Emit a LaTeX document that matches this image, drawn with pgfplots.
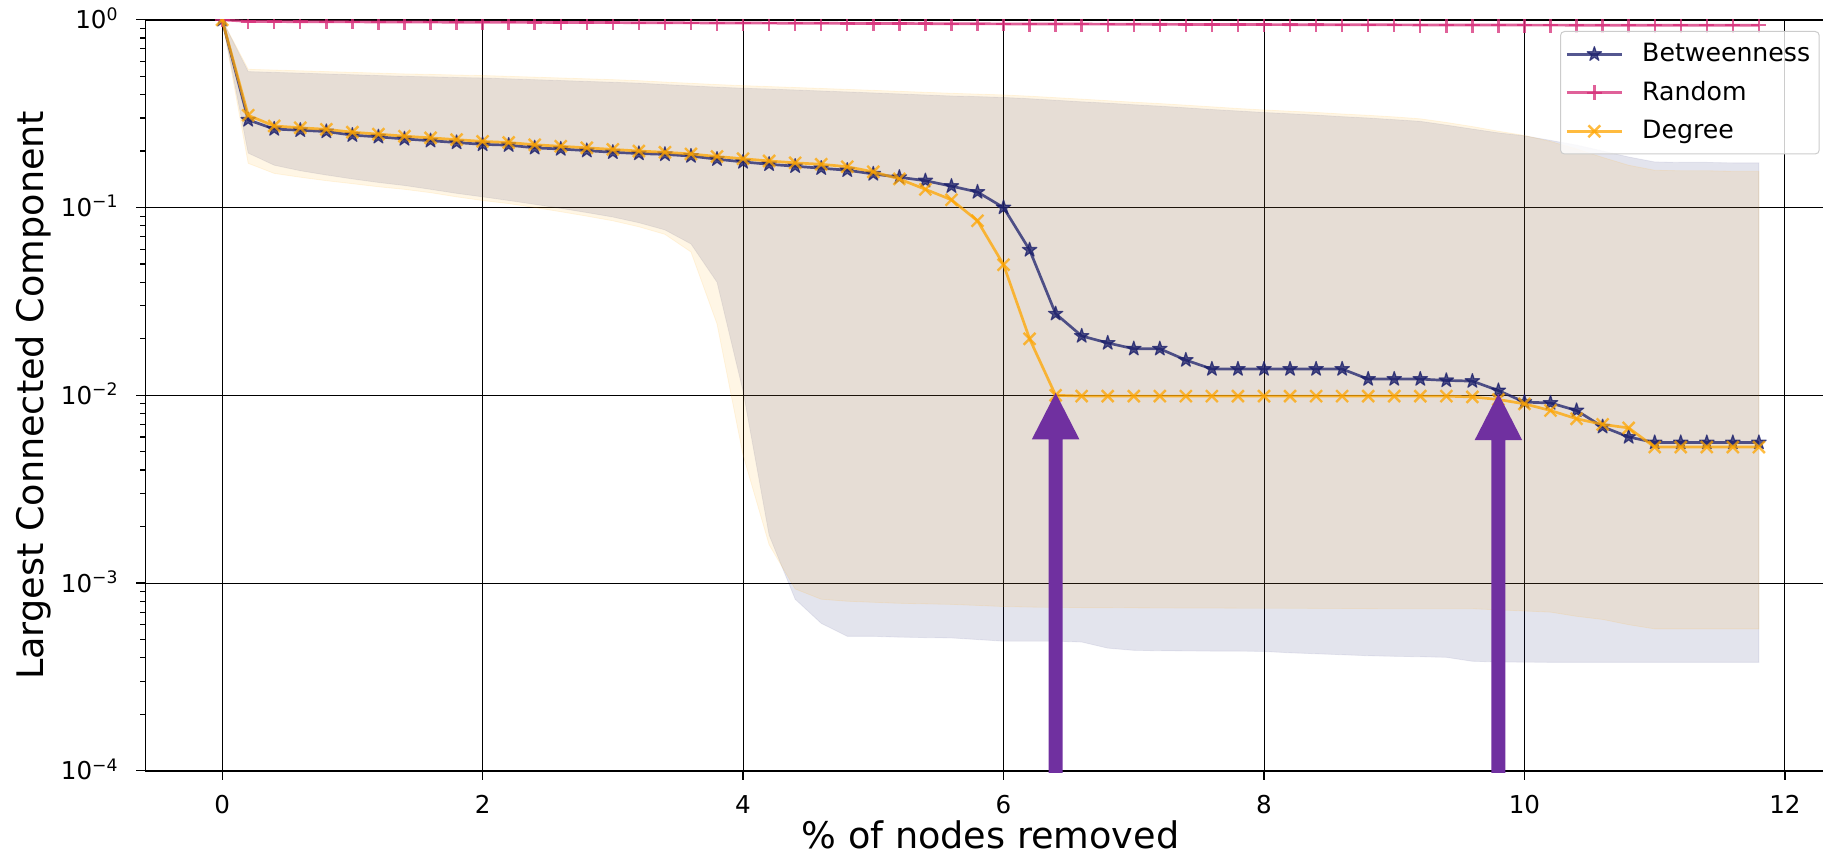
\documentclass[border=0pt]{standalone}
\usepackage{fontspec}
\setmainfont{DejaVu Sans}
\usepackage{pgfplots}
\pgfplotsset{compat=1.18}
\usepackage{pgfplotstable}
\usepgfplotslibrary{fillbetween}
\usetikzlibrary{calc}

\definecolor{bcol}{HTML}{1B1F6B}
\definecolor{rcol}{HTML}{D62C77}
\definecolor{dcol}{HTML}{FFA500}
\definecolor{arrowcol}{HTML}{7030A0}

\pgfdeclareplotmark{fstar}{%
 \pgfpathmoveto{\pgfpointpolar{90}{\pgfplotmarksize}}%
 \pgfpathlineto{\pgfpointpolar{126}{0.382\pgfplotmarksize}}%
 \pgfpathlineto{\pgfpointpolar{162}{\pgfplotmarksize}}%
 \pgfpathlineto{\pgfpointpolar{198}{0.382\pgfplotmarksize}}%
 \pgfpathlineto{\pgfpointpolar{234}{\pgfplotmarksize}}%
 \pgfpathlineto{\pgfpointpolar{270}{0.382\pgfplotmarksize}}%
 \pgfpathlineto{\pgfpointpolar{306}{\pgfplotmarksize}}%
 \pgfpathlineto{\pgfpointpolar{342}{0.382\pgfplotmarksize}}%
 \pgfpathlineto{\pgfpointpolar{18}{\pgfplotmarksize}}%
 \pgfpathlineto{\pgfpointpolar{54}{0.382\pgfplotmarksize}}%
 \pgfpathclose
 \pgfusepathqfillstroke}

\pgfplotstableread{
x B R D BU BL DU DL
0.0 1.0 1.0 1.0 1.0 1.0 1.0 1.0
0.2 0.293 0.980 0.310 0.530 0.195 0.545 0.172
0.4 0.262 0.978 0.272 0.525 0.168 0.540 0.152
0.6 0.258 0.977 0.266 0.520 0.157 0.535 0.145
0.8 0.254 0.976 0.261 0.515 0.149 0.530 0.139
1.0 0.243 0.975 0.252 0.510 0.142 0.525 0.134
1.2 0.238 0.974 0.246 0.505 0.136 0.520 0.129
1.4 0.232 0.973 0.240 0.500 0.131 0.515 0.125
1.6 0.227 0.972 0.235 0.497 0.125 0.512 0.120
1.8 0.222 0.971 0.230 0.493 0.119 0.508 0.114
2.0 0.217 0.970 0.225 0.490 0.114 0.505 0.109
2.2 0.215 0.970 0.222 0.485 0.109 0.500 0.105
2.4 0.208 0.969 0.216 0.480 0.104 0.495 0.100
2.6 0.205 0.968 0.212 0.475 0.099 0.490 0.095
2.8 0.201 0.967 0.208 0.470 0.094 0.485 0.090
3.0 0.197 0.966 0.204 0.465 0.089 0.480 0.085
3.2 0.194 0.965 0.200 0.460 0.083 0.474 0.079
3.4 0.192 0.964 0.197 0.452 0.076 0.466 0.072
3.6 0.188 0.963 0.193 0.445 0.064 0.459 0.058
3.8 0.181 0.962 0.187 0.438 0.040 0.452 0.024
4.0 0.175 0.961 0.182 0.432 0.0105 0.446 0.0048
4.2 0.170 0.960 0.177 0.428 0.0018 0.441 0.0016
4.4 0.166 0.959 0.173 0.423 0.00082 0.436 0.00093
4.6 0.162 0.958 0.170 0.418 0.00061 0.431 0.00082
4.8 0.158 0.957 0.165 0.413 0.00052 0.426 0.00080
5.0 0.151 0.956 0.155 0.408 0.00052 0.421 0.00079
5.2 0.145 0.955 0.142 0.403 0.000515 0.416 0.00078
5.4 0.139 0.954 0.125 0.398 0.000512 0.411 0.000775
5.6 0.130 0.953 0.110 0.393 0.00051 0.406 0.00077
5.8 0.121 0.952 0.085 0.390 0.00050 0.402 0.00076
6.0 0.100 0.951 0.0496 0.386 0.00049 0.398 0.00075
6.2 0.0595 0.950 0.0200 0.380 0.00049 0.392 0.000745
6.4 0.0272 0.950 0.0100 0.373 0.00049 0.385 0.000742
6.6 0.0207 0.949 0.0099 0.366 0.000485 0.378 0.00074
6.8 0.0190 0.948 0.0099 0.360 0.00045 0.371 0.00074
7.0 0.0177 0.947 0.0099 0.353 0.000438 0.364 0.000738
7.2 0.0177 0.946 0.0099 0.347 0.000436 0.358 0.000737
7.4 0.0154 0.945 0.0099 0.340 0.000435 0.351 0.000736
7.6 0.0138 0.945 0.0099 0.333 0.000434 0.344 0.000736
7.8 0.0138 0.944 0.0099 0.327 0.000434 0.337 0.000735
8.0 0.0138 0.943 0.0099 0.321 0.000432 0.331 0.000735
8.2 0.0138 0.942 0.0099 0.316 0.000425 0.326 0.000734
8.4 0.0138 0.942 0.0099 0.311 0.00042 0.321 0.000733
8.6 0.0138 0.941 0.0099 0.305 0.000415 0.315 0.000732
8.8 0.0122 0.940 0.0099 0.300 0.00041 0.310 0.000731
9.0 0.0122 0.940 0.0099 0.294 0.000407 0.304 0.00073
9.2 0.0122 0.939 0.0099 0.288 0.000405 0.297 0.00073
9.4 0.0120 0.939 0.0099 0.275 0.000402 0.284 0.00073
9.6 0.0119 0.938 0.0098 0.262 0.000383 0.270 0.00073
9.8 0.0106 0.938 0.0095 0.250 0.00038 0.255 0.00072
10.0 0.0092 0.937 0.0090 0.241 0.000379 0.242 0.00071
10.2 0.0091 0.937 0.0083 0.228 0.000378 0.225 0.00070
10.4 0.0083 0.936 0.0075 0.215 0.000378 0.205 0.000665
10.6 0.0068 0.936 0.0070 0.200 0.000378 0.185 0.00064
10.8 0.0060 0.935 0.0067 0.186 0.000378 0.168 0.00060
11.0 0.0056 0.935 0.0053 0.175 0.000378 0.158 0.00057
11.2 0.0056 0.935 0.0053 0.174 0.000378 0.157 0.00057
11.4 0.0056 0.935 0.0053 0.174 0.000378 0.157 0.00057
11.6 0.0056 0.935 0.0053 0.173 0.000378 0.156 0.00057
11.8 0.0056 0.935 0.0053 0.173 0.000378 0.156 0.00057
}\data

\begin{document}
\begin{tikzpicture}
\begin{axis}[
  scale only axis, width=845.2pt, height=375.5pt,
  xmin=-0.59, xmax=12.39,
  ymode=log, log basis y=10, ymin=1e-4, ymax=1,
  xtick={0,2,4,6,8,10,12}, xticklabels={0,2,4,6,8,10,12},
  ytick={1e-4,1e-3,1e-2,1e-1,1},
  yticklabels={10\textsuperscript{−4},10\textsuperscript{−3},10\textsuperscript{−2},10\textsuperscript{−1},10\textsuperscript{0}},
  minor ytick={2e-4,3e-4,4e-4,5e-4,6e-4,7e-4,8e-4,9e-4,2e-3,3e-3,4e-3,5e-3,6e-3,7e-3,8e-3,9e-3,2e-2,3e-2,4e-2,5e-2,6e-2,7e-2,8e-2,9e-2,0.2,0.3,0.4,0.5,0.6,0.7,0.8,0.9},
  xtick pos=left, ytick pos=left,
  tick align=outside, major tick length=4.5pt, minor tick length=2.5pt,
  tick style={black, line width=0.6pt},
  grid=major, major grid style={black, line width=0.45pt},
  axis line style={black, line width=0.8pt},
  tick label style={font=\fontsize{12.3}{14}\selectfont},
  xticklabel style={anchor=base, inner sep=0pt, yshift=-16.85pt},
  yticklabel style={anchor=base east, inner sep=0pt, xshift=-8.65pt, yshift=-4.5pt},
  every axis x label/.style={at={(axis description cs:0.5,0)}, anchor=base, yshift=-38.8pt, font=\fontsize{18.3}{22}\selectfont},
  every axis y label/.style={at={(axis description cs:-0.0664,0.5)}, anchor=center, rotate=90, font=\fontsize{18.3}{22}\selectfont},
  xlabel={\% of nodes removed},
  ylabel={Largest Connected Component},
  clip marker paths=true,
  legend cell align=left,
  legend style={at={(1,1)}, anchor=north east, xshift=-8pt, yshift=-5.6pt,
    draw=black!20, line width=0.5pt, fill=white, fill opacity=0.8, text opacity=1,
    rounded corners=2pt, font=\fontsize{12.6}{15}\selectfont,
    inner xsep=2.5pt, inner ysep=4pt, row sep=4.4pt,
    /tikz/every odd column/.append style={column sep=7.5pt}},
  legend image code/.code={\draw[mark repeat=2, mark phase=2] plot coordinates {(0pt,0pt)(13.75pt,0pt)(27.5pt,0pt)};},
]
\addplot[name path=bu, draw=none, forget plot] table[x=x, y=BU] {\data};
\addplot[name path=bl, draw=none, forget plot] table[x=x, y=BL] {\data};
\addplot[fill=bcol, fill opacity=0.12, draw=bcol, draw opacity=0.08, forget plot] fill between[of=bu and bl];
\addplot[name path=du, draw=none, forget plot] table[x=x, y=DU] {\data};
\addplot[name path=dl, draw=none, forget plot] table[x=x, y=DL] {\data};
\addplot[fill=dcol, fill opacity=0.10, draw=dcol, draw opacity=0.10, forget plot] fill between[of=du and dl];

\addplot[color=bcol, opacity=0.75, line width=1.35pt, line join=round, mark=fstar, mark size=3.8pt, mark options={line width=0.6pt}] table[x=x, y=B] {\data};
\addlegendentry{Betweenness}
\addplot[color=rcol, opacity=0.75, line width=1.35pt, line join=round, mark=+, mark size=3.8pt, mark options={line width=1.2pt}] table[x=x, y=R] {\data};
\addlegendentry{Random}
\addplot[color=dcol, opacity=0.75, line width=1.35pt, line join=round, mark=x, mark size=4.2pt, mark options={line width=1.2pt}] table[x=x, y=D] {\data};
\addlegendentry{Degree}

\coordinate (SW) at (rel axis cs:0,0);
\coordinate (A1top) at (axis cs:6.4,0.0103);
\coordinate (A1bot) at (axis cs:6.4,1e-4);
\coordinate (A2top) at (axis cs:9.8,0.0102);
\coordinate (A2bot) at (axis cs:9.8,1e-4);
\end{axis}
\foreach \t/\b in {A1top/A1bot, A2top/A2bot}{
  \fill[arrowcol] (\t) -- ($(\t)+(11.9pt,-23.25pt)$) -- ($(\t)+(3.5pt,-23.25pt)$) -- ($(\b)+(3.5pt,-1pt)$) -- ($(\b)+(-3.5pt,-1pt)$) -- ($(\t)+(-3.5pt,-23.25pt)$) -- ($(\t)+(-11.9pt,-23.25pt)$) -- cycle;
}
\pgfresetboundingbox
\useasboundingbox ($(SW)+(-72.65pt,-42.6pt)$) rectangle ($(SW)+(838.85pt,385.4pt)$);
\end{tikzpicture}
\end{document}
